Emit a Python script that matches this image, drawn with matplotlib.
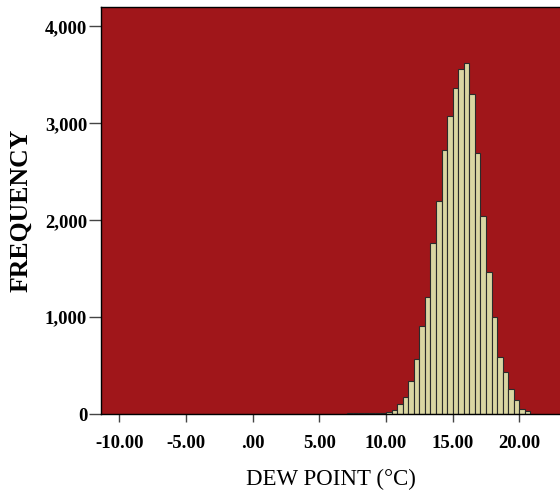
import numpy as np
import matplotlib

matplotlib.use("Agg")

import matplotlib.pyplot as plt

# histogram of dew point, bins of 5/12 degree starting at -10
bin_start = -10.0
bin_width = 5 / 12
counts = [
    0, 1, 0, 0, 1, 0, 0, 1, 0, 0, 1, 0,        # -10 .. -5
    0, 1, 1, 0, 1, 0, 1, 1, 0, 1, 1, 0,        # -5 .. 0
    1, 1, 1, 2, 1, 1, 2, 2, 2, 3, 2, 3,        # 0 .. 5
    3, 3, 4, 5, 5, 6, 7, 9, 10, 12, 14, 15,    # 5 .. 10
    25, 42, 105, 180, 340, 570, 910, 1210, 1760, 2200, 2730, 3080,   # 10 .. 15
    3370, 3560, 3620, 3300, 2690, 2040, 1470, 1000, 590, 430, 260, 140,  # 15 .. 20
    50, 30, 5,                                  # 20 ..
]

xticks = [-10, -5, 0, 5, 10, 15, 20]
xtick_labels = ["-10.00", "-5.00", ".00", "5.00", "10.00", "15.00", "20.00"]
yticks = [0, 1000, 2000, 3000, 4000]
ytick_labels = ["0", "1,000", "2,000", "3,000", "4,000"]

lefts = bin_start + bin_width * np.arange(len(counts))

plt.rcParams["font.family"] = ["Liberation Serif", "DejaVu Serif"]

fig = plt.figure(figsize=(5.6, 4.96), dpi=100)
ax = fig.add_axes([0.1804, 0.1653, 0.8196, 0.8206])
ax.set_facecolor("#A0161A")

ax.bar(lefts, counts, width=bin_width, align="edge",
       color="#DAD6A2", edgecolor="#2b2b2b", linewidth=0.8)

ax.set_xlim(-11.38, 23.05)
ax.set_ylim(0, 4201)

ax.set_xticks(xticks)
ax.set_xticklabels(xtick_labels, fontsize=13.5, fontweight="bold")
ax.set_yticks(yticks)
ax.set_yticklabels(ytick_labels, fontsize=13.5, fontweight="bold")
ax.tick_params(axis="x", length=6, width=1, color="#444444", pad=9)
ax.tick_params(axis="y", length=9, width=1, color="#444444", pad=1)

for side in ["left", "bottom", "top"]:
    ax.spines[side].set_color("black")
    ax.spines[side].set_linewidth(1)
ax.spines["right"].set_visible(False)

ax.set_xlabel("DEW POINT (°C)", fontsize=16.5, labelpad=12)
ax.set_ylabel("FREQUENCY", fontsize=18.5, fontweight="bold", labelpad=9)

fig.savefig("out.png", dpi=100)
